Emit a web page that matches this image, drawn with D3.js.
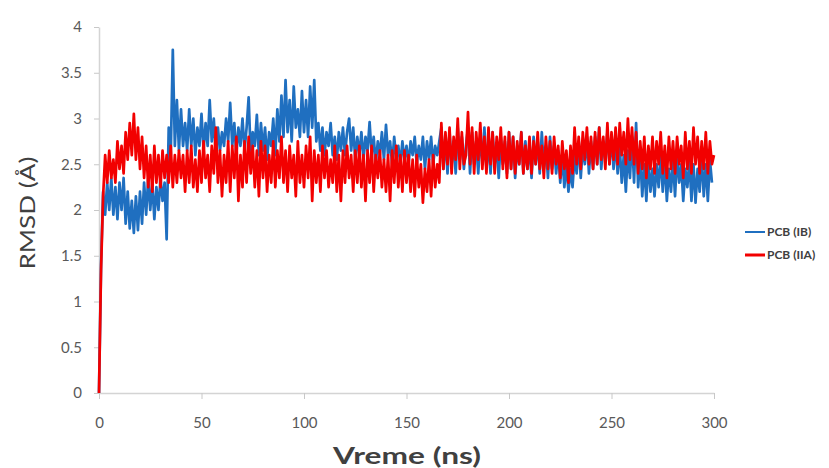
<!DOCTYPE html>
<html>
<head>
<meta charset="utf-8">
<script src="https://cdn.jsdelivr.net/npm/d3@7"></script>
<style>
  html, body { margin: 0; padding: 0; background: #fff; }
  svg { display: block; font-family: Lato, "Open Sans", sans-serif; }
</style>
</head>
<body>
<svg id="chart" width="829" height="468"></svg>
<script>
// RMSD trajectories, one frame per ns (Å)
const seriesNames = ["PCB (IB)", "PCB (IIA)"];
const seriesColors = ["#1f6fc0", "#f20000"];

const rmsdIB = [
  0, 1.4, 2.2, 1.95, 2.3, 2.0, 2.35, 1.95, 2.25, 1.9, 2.3,
  2.0, 2.35, 1.85, 2.2, 1.8, 2.1, 1.75, 2.15, 1.78, 2.2,
  1.85, 2.3, 1.95, 2.35, 2.0, 2.3, 1.9, 2.25, 2.0, 2.35,
  2.1, 2.3, 1.68, 2.9, 2.6, 3.75, 2.7, 3.2, 2.65, 3.1,
  2.7, 2.95, 2.65, 3.1, 2.7, 3.0, 2.6, 2.9, 2.7, 3.05,
  2.65, 2.95, 2.7, 3.2, 2.75, 3.0, 2.6, 2.9, 2.65, 2.85,
  2.7, 3.0, 2.75, 3.17, 2.7, 2.95, 2.6, 2.9, 2.7, 3.0,
  2.65, 2.9, 3.23, 2.6, 2.85, 2.7, 3.04, 2.6, 2.95, 2.65,
  2.9, 2.55, 2.85, 2.7, 3.0, 2.6, 3.1, 2.75, 3.25, 2.8,
  3.42, 2.85, 3.2, 2.75, 3.35, 2.9, 3.1, 2.8, 3.3, 2.85,
  3.2, 2.8, 3.35, 2.9, 3.42, 2.75, 2.95, 2.65, 2.9, 2.6,
  2.85, 2.7, 2.95, 2.6, 2.8, 2.55, 2.85, 2.65, 2.9, 2.6,
  2.85, 3.0, 2.65, 2.9, 2.55, 2.8, 2.6, 2.85, 2.55, 2.8,
  2.65, 2.96, 2.6, 2.8, 2.5, 2.75, 2.6, 2.85, 2.55, 2.93,
  2.6, 2.75, 2.5, 2.8, 2.55, 2.7, 2.5, 2.75, 2.55, 2.7,
  2.5, 2.75, 2.6, 2.8, 2.5, 2.7, 2.55, 2.8, 2.45, 2.75,
  2.55, 2.8, 2.5, 2.7, 2.6, 2.75, 2.9, 2.45, 2.8, 2.4,
  2.85, 2.5, 2.75, 2.4, 2.9, 2.55, 2.8, 2.45, 2.7, 2.9,
  2.4, 2.85, 2.5, 2.75, 2.4, 2.8, 2.55, 2.9, 2.45, 2.75,
  2.4, 2.85, 2.5, 2.7, 2.35, 2.8, 2.5, 2.75, 2.4, 2.85,
  2.45, 2.8, 2.35, 2.7, 2.5, 2.85, 2.4, 2.75, 2.45, 2.7,
  2.35, 2.8, 2.5, 2.75, 2.4, 2.85, 2.45, 2.7, 2.35, 2.8,
  2.45, 2.7, 2.4, 2.65, 2.3, 2.6, 2.25, 2.5, 2.2, 2.45,
  2.25, 2.6, 2.4, 2.75, 2.35, 2.7, 2.5, 2.8, 2.4, 2.75,
  2.45, 2.8, 2.5, 2.9, 2.45, 2.75, 2.55, 2.85, 2.5, 2.8,
  2.45, 2.75, 2.4, 2.7, 2.3, 2.6, 2.2, 2.65, 2.35, 2.8,
  2.3, 2.95, 2.25, 2.6, 2.15, 2.5, 2.1, 2.55, 2.2, 2.45,
  2.15, 2.5, 2.25, 2.6, 2.2, 2.55, 2.1, 2.45, 2.2, 2.55,
  2.15, 2.6, 2.3, 2.5, 2.1, 2.45, 2.25, 2.55, 2.1, 2.5,
  2.08, 2.45, 2.2, 2.6, 2.15, 2.5, 2.1, 2.55, 2.3
];

const rmsdIIA = [
  0, 1.35, 2.15, 2.6, 2.3, 2.65, 2.35, 2.55, 2.3, 2.75, 2.45,
  2.7, 2.4, 2.85, 2.55, 2.95, 2.6, 3.05, 2.55, 2.9, 2.45,
  2.8, 2.35, 2.7, 2.25, 2.6, 2.2, 2.7, 2.3, 2.6, 2.25,
  2.65, 2.35, 2.6, 2.3, 2.7, 2.25, 2.6, 2.3, 2.65, 2.35,
  2.6, 2.2, 2.65, 2.3, 2.7, 2.25, 2.55, 2.2, 2.65, 2.3,
  2.75, 2.35, 2.6, 2.2, 2.7, 2.4, 2.9, 2.3, 2.65, 2.15,
  2.6, 2.3, 2.75, 2.2, 2.7, 2.35, 2.8, 2.1, 2.6, 2.25,
  2.75, 2.3, 2.8, 2.4, 2.7, 2.25, 2.65, 2.15, 2.75, 2.35,
  2.7, 2.2, 2.6, 2.3, 2.75, 2.25, 2.65, 2.35, 2.8, 2.3,
  2.65, 2.2, 2.7, 2.35, 2.6, 2.15, 2.75, 2.3, 2.6, 2.25,
  2.7, 2.35, 2.8, 2.1, 2.65, 2.3, 2.6, 2.2, 2.7, 2.35,
  2.65, 2.25, 2.55, 2.3, 2.7, 2.2, 2.6, 2.1, 2.65, 2.3,
  2.7, 2.35, 2.6, 2.2, 2.65, 2.3, 2.7, 2.25, 2.6, 2.1,
  2.65, 2.3, 2.7, 2.2, 2.6, 2.35, 2.65, 2.25, 2.55, 2.2,
  2.6, 2.1, 2.65, 2.3, 2.7, 2.25, 2.6, 2.2, 2.65, 2.3,
  2.6, 2.2, 2.55, 2.15, 2.6, 2.25, 2.5, 2.08, 2.45, 2.2,
  2.55, 2.15, 2.6, 2.25, 2.5, 2.3, 2.95, 2.45, 2.85, 2.5,
  2.9, 2.4, 2.8, 2.55, 3.0, 2.45, 2.85, 2.5, 2.6, 3.07,
  2.5, 2.9, 2.4, 2.85, 2.55, 2.95, 2.45, 2.8, 2.4, 2.9,
  2.5, 2.85, 2.4, 2.8, 2.55, 2.9, 2.45, 2.8, 2.35, 2.85,
  2.45, 2.8, 2.4, 2.75, 2.5, 2.85, 2.4, 2.7, 2.45, 2.8,
  2.4, 2.75, 2.5, 2.85, 2.45, 2.7, 2.35, 2.8, 2.45, 2.75,
  2.4, 2.8, 2.5, 2.7, 2.35, 2.75, 2.45, 2.65, 2.3, 2.7,
  2.4, 2.9, 2.5, 2.8, 2.45, 2.85, 2.55, 2.9, 2.5, 2.8,
  2.45, 2.85, 2.5, 2.9, 2.55, 2.8, 2.45, 2.95, 2.5, 2.85,
  2.55, 2.9, 2.5, 2.95, 2.6, 2.85, 2.5, 3.0, 2.55, 2.9,
  2.5, 2.85, 2.4, 2.75, 2.45, 2.8, 2.35, 2.7, 2.45, 2.8,
  2.4, 2.75, 2.5, 2.85, 2.4, 2.7, 2.35, 2.8, 2.45, 2.75,
  2.4, 2.8, 2.5, 2.7, 2.35, 2.85, 2.45, 2.75, 2.4, 2.9,
  2.5, 2.8, 2.4, 2.75, 2.45, 2.85, 2.4, 2.75, 2.5, 2.6
];

const xTicks = [0, 50, 100, 150, 200, 250, 300];
const yTicks = [0, 0.5, 1, 1.5, 2, 2.5, 3, 3.5, 4];
const xTitle = "Vreme (ns)";
const yTitle = "RMSD (Å)";

const svg = d3.select("#chart");
const x = d3.scaleLinear().domain([0, 300]).range([99, 714]);
const y = d3.scaleLinear().domain([0, 4]).range([393, 27]);

// y axis
const yAxis = svg.append("g")
  .attr("transform", `translate(${x(0)},0)`)
  .call(d3.axisLeft(y).tickValues(yTicks).tickFormat(d => String(d))
    .tickSize(5).tickSizeOuter(0).tickPadding(12));
// x axis
const xAxis = svg.append("g")
  .attr("transform", `translate(0,${y(0)})`)
  .call(d3.axisBottom(x).tickValues(xTicks).tickFormat(d => String(d))
    .tickSize(6).tickSizeOuter(0).tickPadding(18));

[xAxis, yAxis].forEach(g => {
  g.select(".domain").attr("stroke", "#d4d4d4").attr("stroke-width", 1.5);
  g.selectAll(".tick line").attr("stroke", "#c8c8c8");
  g.selectAll(".tick text").attr("fill", "#595959")
    .style("font-size", "15px").style("font-family", "Lato, sans-serif");
});

// traces: blue first, red drawn over it
const line = d3.line().x((d, i) => x(i)).y(d => y(d));
[rmsdIB, rmsdIIA].forEach((s, k) => {
  svg.append("path")
    .datum(s)
    .attr("fill", "none")
    .attr("stroke", seriesColors[k])
    .attr("stroke-width", 2.7)
    .attr("stroke-linejoin", "round")
    .attr("d", line);
});

// axis titles
svg.append("text")
  .attr("transform", `translate(35,${(y(0) + y(4)) / 2 + 3}) rotate(-90)`)
  .attr("text-anchor", "middle")
  .attr("fill", "#404040")
  .attr("textLength", 113)
  .attr("lengthAdjust", "spacingAndGlyphs")
  .style("font-size", "22px")
  .text(yTitle);

svg.append("text")
  .attr("x", 407).attr("y", 464)
  .attr("text-anchor", "middle")
  .attr("fill", "#404040")
  .attr("textLength", 148)
  .attr("lengthAdjust", "spacingAndGlyphs")
  .style("font-size", "23px").style("font-weight", "bold")
  .text(xTitle);

// legend
const legend = svg.append("g");
seriesNames.forEach((name, k) => {
  const ly = 232 + k * 23;
  legend.append("line")
    .attr("x1", 745).attr("x2", 765).attr("y1", ly).attr("y2", ly)
    .attr("stroke", seriesColors[k]).attr("stroke-width", k === 0 ? 2 : 3);
  legend.append("text")
    .attr("x", 767).attr("y", ly + 4)
    .attr("fill", "#404040")
    .style("font-size", "12px").style("font-weight", "bold")
    .text(name);
});
</script>
</body>
</html>
